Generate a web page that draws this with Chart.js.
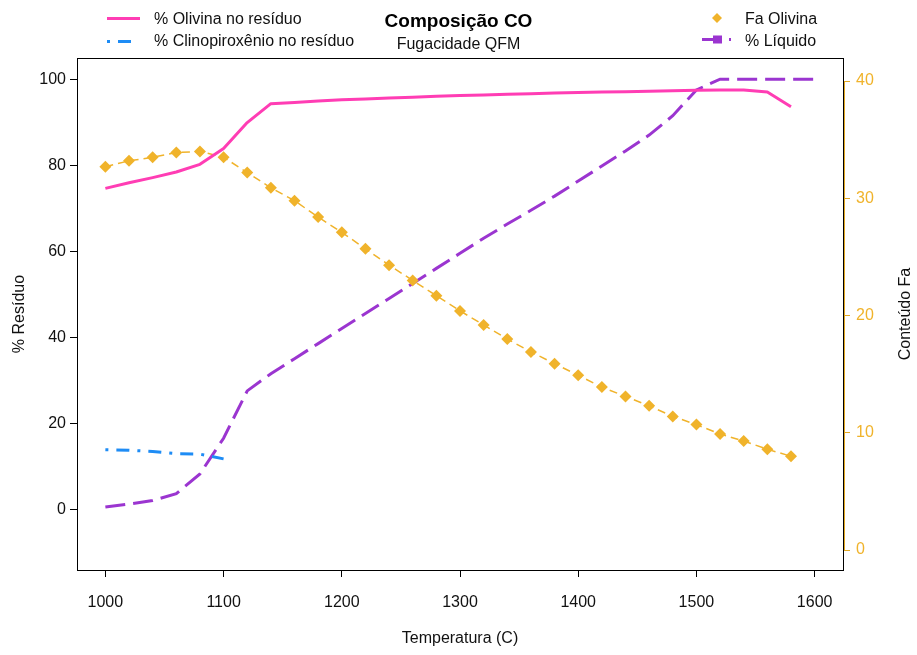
<!DOCTYPE html>
<html>
<head>
<meta charset="utf-8">
<script src="https://cdn.jsdelivr.net/npm/chart.js@4"></script>
<style>
  html, body { margin: 0; padding: 0; background: #fff; }
  #wrap { width: 917px; height: 655px; }
</style>
</head>
<body>
<div id="wrap"><canvas id="myChart" width="917" height="655"></canvas></div>
<script>
// temperatures (C) of the olivine / Fa runs
const temps = [1000, 1020, 1040, 1060, 1080, 1100, 1120, 1140, 1160, 1180,
               1200, 1220, 1240, 1260, 1280, 1300, 1320, 1340, 1360, 1380,
               1400, 1420, 1440, 1460, 1480, 1500, 1520, 1540, 1560, 1580]
const olivina = [74.6, 75.9, 77.1, 78.4, 80.2, 83.9, 89.9, 94.3, 94.6, 94.9,
                 95.2, 95.4, 95.6, 95.8, 96.0, 96.2, 96.3, 96.5, 96.6, 96.8,
                 96.9, 97.0, 97.1, 97.2, 97.3, 97.4, 97.5, 97.5, 97.0, 93.6]
const faOlivina = [32.7, 33.2, 33.5, 33.9, 34.0, 33.5, 32.2, 30.9, 29.8, 28.4,
                   27.1, 25.7, 24.3, 23.0, 21.7, 20.4, 19.2, 18.0, 16.9, 15.9,
                   14.9, 13.9, 13.1, 12.3, 11.4, 10.7, 9.9, 9.3, 8.6, 8.0]

// clinopyroxene only survives up to 1100
const cpxTemps = [1000, 1020, 1040, 1060, 1080, 1100]
const clinopiroxenio = [13.8, 13.7, 13.4, 12.9, 12.8, 11.7]

// melt fraction runs all the way to 1600
const liqTemps = [1000, 1020, 1040, 1060, 1080, 1100, 1120, 1140, 1160, 1180,
                  1200, 1220, 1240, 1260, 1280, 1300, 1320, 1340, 1360, 1380,
                  1400, 1420, 1440, 1460, 1480, 1500, 1520, 1540, 1560, 1580, 1600]
const liquido = [0.5, 1.2, 2.0, 3.6, 8.2, 16.5, 27.5, 31.5, 35.0, 38.5,
                 42.0, 45.5, 49.0, 52.5, 56.0, 59.5, 63.0, 66.3, 69.5, 72.8,
                 76.3, 79.8, 83.3, 87.0, 91.5, 97.5, 100, 100, 100, 100, 100]

const xTicks = [1000, 1100, 1200, 1300, 1400, 1500, 1600]
const yTicks = [0, 20, 40, 60, 80, 100]
const y2Ticks = [0, 10, 20, 30, 40]
const y2Title = 'Conteúdo Fa'

const pink = '#ff3db4'
const blue = '#1e8cf5'
const gold = '#f0b32b'
const goldAxis = '#e2a824'
const purple = '#9b35d0'
const FONT = "'Liberation Sans', Arial, sans-serif"

const pts = (xs, ys) => xs.map((x, i) => ({ x: x, y: ys[i] }))

Chart.defaults.font.family = FONT
Chart.defaults.font.size = 16
Chart.defaults.color = '#111'

// box around the plot, gold right axis, its title and the two legends
const frame = {
  id: 'frame',
  afterDraw(chart) {
    const { ctx, chartArea: a, scales } = chart
    const ds = chart.data.datasets
    ctx.save()
    ctx.strokeStyle = '#000'
    ctx.lineWidth = 1
    ctx.strokeRect(Math.round(a.left) + 0.5, Math.round(a.top) + 0.5,
                   Math.round(a.right - a.left), Math.round(a.bottom - a.top))

    const y2 = scales.y2
    ctx.strokeStyle = goldAxis
    ctx.beginPath()
    ctx.moveTo(Math.round(a.right) + 1.5, y2.getPixelForValue(0))
    ctx.lineTo(Math.round(a.right) + 1.5, y2.getPixelForValue(40))
    ctx.stroke()

    ctx.font = '16px ' + FONT
    ctx.fillStyle = '#111'

    // right axis title reads bottom to top, like the left one
    ctx.save()
    ctx.translate(906, (a.top + a.bottom) / 2)
    ctx.rotate(-Math.PI / 2)
    ctx.textAlign = 'center'
    ctx.textBaseline = 'middle'
    ctx.fillText(y2Title, 0, 0)
    ctx.restore()

    ctx.textBaseline = 'middle'
    ctx.textAlign = 'left'

    // left legend
    ctx.lineWidth = 3
    ctx.strokeStyle = pink
    ctx.beginPath(); ctx.moveTo(107, 18.5); ctx.lineTo(140, 18.5); ctx.stroke()
    ctx.fillText(ds[0].label, 154, 20)
    ctx.strokeStyle = blue
    ctx.beginPath(); ctx.moveTo(107, 41.5); ctx.lineTo(110, 41.5); ctx.stroke()
    ctx.beginPath(); ctx.moveTo(118, 41.5); ctx.lineTo(131, 41.5); ctx.stroke()
    ctx.fillText(ds[1].label, 154, 42)

    // right legend
    ctx.fillStyle = gold
    ctx.beginPath()
    ctx.moveTo(717, 13); ctx.lineTo(722, 18); ctx.lineTo(717, 23); ctx.lineTo(712, 18)
    ctx.closePath(); ctx.fill()
    ctx.strokeStyle = purple
    ctx.fillStyle = purple
    ctx.beginPath(); ctx.moveTo(702, 39.5); ctx.lineTo(714, 39.5); ctx.stroke()
    ctx.fillRect(713, 35.5, 9, 8)
    ctx.beginPath(); ctx.moveTo(729, 39.5); ctx.lineTo(731, 39.5); ctx.stroke()
    ctx.fillStyle = '#111'
    ctx.fillText(ds[2].label, 745, 20)
    ctx.fillText(ds[3].label, 745, 42)
    ctx.restore()
  }
}

const data = {
  datasets: [{
    label: '% Olivina no resíduo',
    data: pts(temps, olivina),
    yAxisID: 'y',
    borderColor: pink,
    borderWidth: 3,
    borderJoinStyle: 'round',
    pointRadius: 0
  }, {
    label: '% Clinopiroxênio no resíduo',
    data: pts(cpxTemps, clinopiroxenio),
    yAxisID: 'y',
    borderColor: blue,
    borderWidth: 3,
    borderDash: [3, 8, 13, 8],
    pointRadius: 0
  }, {
    label: 'Fa Olivina',
    data: pts(temps, faOlivina),
    yAxisID: 'y2',
    borderColor: gold,
    borderWidth: 1.5,
    borderDash: [8, 5],
    pointStyle: 'rectRot',
    pointRadius: 6,
    pointBorderWidth: 0,
    pointBackgroundColor: gold,
    pointBorderColor: gold
  }, {
    label: '% Líquido',
    data: pts(liqTemps, liquido),
    yAxisID: 'y',
    borderColor: purple,
    borderWidth: 3,
    borderDash: [20, 8],
    pointRadius: 0
  }]
}

const config = {
  type: 'line',
  data: data,
  options: {
    responsive: false,
    devicePixelRatio: 1,
    animation: false,
    layout: { padding: 0 },
    plugins: {
      legend: { display: false },
      tooltip: { enabled: false },
      title: {
        display: true,
        text: 'Composição CO',
        color: '#000',
        font: { size: 19, weight: 'bold' },
        padding: { top: 10.5, bottom: 2 }
      },
      subtitle: {
        display: true,
        text: 'Fugacidade QFM',
        color: '#111',
        font: { size: 16 },
        padding: { top: 0, bottom: 3.6 }
      }
    },
    scales: {
      x: {
        type: 'linear',
        min: 976,
        max: 1624,
        afterBuildTicks: (s) => { s.ticks = xTicks.map(v => ({ value: v })) },
        afterFit: (s) => { s.height = 85 },
        grid: { drawOnChartArea: false, tickLength: 7, tickColor: '#000' },
        border: { display: false },
        ticks: { padding: 16.4, color: '#111', maxRotation: 0, callback: (v) => String(v) },
        title: { display: true, text: 'Temperatura (C)', color: '#111', padding: { top: 0, bottom: 6.4 } }
      },
      y: {
        position: 'left',
        min: -14.15,
        max: 104.9,
        afterBuildTicks: (s) => { s.ticks = yTicks.map(v => ({ value: v })) },
        afterFit: (s) => { s.width = 77 },
        grid: { drawOnChartArea: false, tickLength: 7, tickColor: '#000' },
        border: { display: false },
        ticks: { padding: 4, color: '#111', callback: (v) => String(v) },
        title: { display: true, text: '% Resíduo', color: '#111', padding: { top: 9.5, bottom: 0 } }
      },
      y2: {
        position: 'right',
        min: -1.7,
        max: 41.96,
        afterBuildTicks: (s) => { s.ticks = y2Ticks.map(v => ({ value: v })) },
        afterFit: (s) => { s.width = 74 },
        grid: { drawOnChartArea: false, tickLength: 7, tickColor: goldAxis },
        border: { display: false },
        ticks: { padding: 6, color: gold, callback: (v) => String(v) },
        title: { display: false }
      }
    }
  },
  plugins: [frame]
}

const ctx = document.getElementById('myChart')
const myChart = new Chart(ctx, config)
</script>
</body>
</html>
